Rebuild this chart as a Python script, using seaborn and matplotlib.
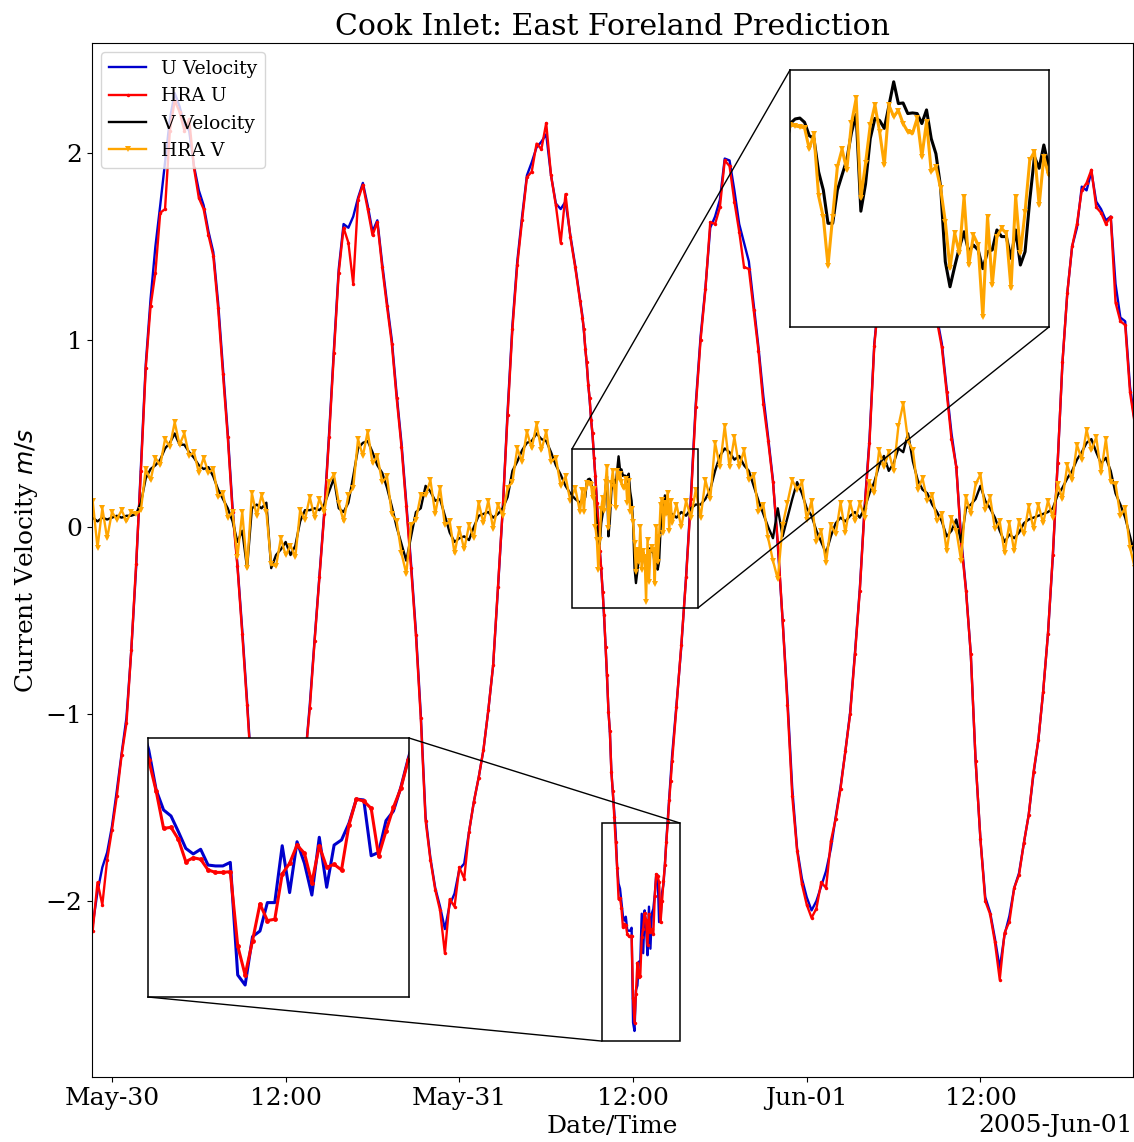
import numpy as np
import pandas as pd
import matplotlib
matplotlib.use("Agg")
import matplotlib.pyplot as plt
import matplotlib.dates as mdates
from matplotlib.patches import Rectangle, ConnectionPatch
import seaborn as sns

plt.rcParams['font.family'] = ['DejaVu Serif']
plt.rcParams['font.size'] = 18
plt.rcParams['mathtext.fontset'] = 'dejavusans'

# ---------------- data ----------------
START = pd.Timestamp('2005-05-30 00:00')
# (start hour relative to May-30 00:00, step in hours) for the three sampled segments
SEGMENTS = [(-5/3, 1/3), (32.5, 0.1), (39.0, 1/3)]

U1 = [-2.05, -2.13, -1.95, -1.82, -1.74, -1.60, -1.41, -1.21, -1.02, -0.66,
      -0.22, 0.32, 0.87, 1.22, 1.50, 1.72, 1.95, 2.18, 2.32, 2.25,
      2.15, 2.12, 1.93, 1.80, 1.72, 1.58, 1.47, 1.20, 0.85, 0.50,
      0.10, -0.20, -0.55, -0.93, -1.33, -1.60, -1.80, -1.95, -2.05, -2.10,
      -2.07, -1.97, -1.84, -1.65, -1.45, -1.25, -0.95, -0.60, -0.26, 0.08,
      0.50, 0.95, 1.38, 1.62, 1.60, 1.66, 1.76, 1.84, 1.72, 1.58,
      1.64, 1.41, 1.20, 1.00, 0.71, 0.45, 0.13, -0.20, -0.56, -1.00,
      -1.55, -1.77, -1.93, -2.03, -2.15, -2.02, -1.96, -1.83, -1.80, -1.63,
      -1.47, -1.34, -1.19, -0.98, -0.74, -0.33, 0.10, 0.62, 1.08, 1.42,
      1.66, 1.88, 1.95, 2.03, 2.06, 2.10, 1.88, 1.73, 1.70, 1.74,
      1.56, 1.40, 1.22]
U2 = [1.13, 1.05, 0.96, 0.87, 0.77, 0.68, 0.58, 0.49, 0.38, 0.26,
      0.14, 0.01, -0.12, -0.23, -0.34, -0.48, -0.63, -0.80, -0.98, -1.10,
      -1.30, -1.42, -1.52,
      -1.637, -1.817, -1.907, -1.934, -2.005, -2.080, -2.105, -2.084, -2.155, -2.159,
      -2.159, -2.143, -2.650, -2.695, -2.477, -2.452, -2.324, -2.324, -2.068, -2.279,
      -2.050, -2.147, -2.290, -2.030, -2.255, -2.065, -2.042, -1.967, -1.858, -1.862,
      -2.113, -2.098, -1.955, -1.912, -1.805, -1.675,
      -1.56, -1.44, -1.33, -1.22]
U3 = [-0.95, -0.64, -0.26, 0.17, 0.66, 1.02, 1.28, 1.60, 1.66, 1.75,
      1.97, 1.96, 1.80, 1.62, 1.52, 1.42, 1.19, 0.96, 0.70, 0.48,
      0.25, -0.10, -0.50, -0.92, -1.40, -1.72, -1.88, -1.98, -2.05, -2.00,
      -1.92, -1.84, -1.72, -1.55, -1.39, -1.20, -0.99, -0.67, -0.33, 0.11,
      0.47, 0.98, 1.25, 1.50, 1.70, 1.85, 1.95, 2.00, 2.02, 1.97,
      1.87, 1.72, 1.52, 1.32, 1.12, 0.98, 0.74, 0.50, 0.32, -0.06,
      -0.33, -0.68, -1.25, -1.67, -1.98, -2.06, -2.20, -2.36, -2.18, -2.08,
      -1.93, -1.85, -1.69, -1.54, -1.32, -1.14, -0.88, -0.57, -0.16, 0.34,
      0.88, 1.25, 1.50, 1.60, 1.82, 1.80, 1.90, 1.74, 1.70, 1.64,
      1.66, 1.30, 1.12, 1.10, 0.75, 0.56]

HRA_U1 = [-2.10, -2.16, -1.90, -2.02, -1.78, -1.62, -1.44, -1.22, -1.05, -0.66,
          -0.20, 0.30, 0.85, 1.18, 1.36, 1.68, 1.70, 2.12, 2.28, 2.22,
          2.12, 2.18, 1.92, 1.76, 1.70, 1.56, 1.45, 1.17, 0.82, 0.48,
          0.08, -0.21, -0.57, -0.95, -1.35, -1.62, -1.82, -1.96, -2.05, -2.12,
          -2.08, -1.98, -1.85, -1.65, -1.45, -1.25, -0.97, -0.61, -0.27, 0.07,
          0.48, 0.93, 1.36, 1.60, 1.52, 1.30, 1.75, 1.83, 1.70, 1.56,
          1.63, 1.39, 1.18, 0.98, 0.69, 0.43, 0.11, -0.22, -0.58, -1.02,
          -1.57, -1.78, -1.94, -2.05, -2.28, -1.99, -2.03, -1.82, -1.88, -1.63,
          -1.47, -1.34, -1.19, -0.98, -0.74, -0.32, 0.10, 0.60, 1.06, 1.40,
          1.64, 1.87, 1.90, 2.05, 2.02, 2.16, 1.88, 1.72, 1.52, 1.78,
          1.55, 1.39, 1.21]
HRA_U2 = [1.12, 1.06, 0.95, 0.88, 0.76, 0.69, 0.57, 0.50, 0.37, 0.27,
          0.13, 0.02, -0.13, -0.22, -0.35, -0.47, -0.64, -0.79, -0.99, -1.09,
          -1.31, -1.41, -1.55,
          -1.682, -1.822, -1.990, -1.985, -2.039, -2.140, -2.122, -2.129, -2.177, -2.188,
          -2.188, -2.185, -2.519, -2.650, -2.495, -2.330, -2.405, -2.399, -2.195, -2.147,
          -2.065, -2.102, -2.234, -2.069, -2.165, -2.152, -2.177, -1.975, -1.858, -1.867,
          -1.900, -2.114, -2.002, -1.895, -1.810, -1.682,
          -1.58, -1.46, -1.36, -1.25]
HRA_U3 = [-0.96, -0.63, -0.27, 0.15, 0.64, 1.00, 1.27, 1.63, 1.62, 1.71,
          1.96, 1.93, 1.74, 1.58, 1.39, 1.38, 1.16, 0.94, 0.66, 0.46,
          0.24, -0.08, -0.50, -0.95, -1.44, -1.73, -1.91, -2.02, -2.09, -2.04,
          -1.90, -1.93, -1.68, -1.56, -1.40, -1.20, -1.00, -0.68, -0.34, 0.10,
          0.45, 0.97, 1.24, 1.49, 1.70, 1.84, 1.94, 1.99, 2.02, 1.96,
          1.86, 1.71, 1.51, 1.31, 1.10, 0.96, 0.72, 0.47, 0.32, -0.08,
          -0.34, -0.68, -1.25, -1.67, -2.00, -2.07, -2.22, -2.42, -2.17, -2.11,
          -1.93, -1.86, -1.69, -1.54, -1.31, -1.14, -0.88, -0.57, -0.15, 0.34,
          0.88, 1.25, 1.50, 1.62, 1.80, 1.84, 1.91, 1.71, 1.68, 1.62,
          1.66, 1.20, 1.10, 1.08, 0.72, 0.55]

V1 = [0.04, 0.05, 0.03, 0.05, 0.04, 0.05, 0.06, 0.05, 0.06, 0.06,
      0.07, 0.13, 0.26, 0.31, 0.33, 0.36, 0.42, 0.45, 0.50, 0.44,
      0.44, 0.40, 0.37, 0.33, 0.31, 0.32, 0.27, 0.20, 0.15, 0.10,
      0.03, -0.08, -0.02, -0.22, 0.10, 0.12, 0.10, 0.13, -0.22, -0.15,
      -0.12, -0.08, -0.15, -0.10, 0.03, 0.09, 0.09, 0.10, 0.09, 0.12,
      0.19, 0.26, 0.10, 0.08, 0.13, 0.27, 0.42, 0.45, 0.46, 0.40,
      0.33, 0.29, 0.21, 0.11, 0.00, -0.09, -0.18, -0.05, 0.08, 0.10,
      0.22, 0.19, 0.14, 0.15, 0.06, -0.03, -0.08, -0.06, -0.05, -0.07,
      0.00, 0.06, 0.07, 0.08, 0.05, 0.07, 0.10, 0.16, 0.30, 0.35,
      0.41, 0.45, 0.46, 0.50, 0.47, 0.46, 0.40, 0.33, 0.28, 0.22,
      0.18, 0.15, 0.13]
V2 = [0.15, 0.14, 0.16,
      0.241, 0.255, 0.258, 0.244, 0.20, 0.19, 0.08, 0.02, -0.09, -0.09,
      0.02, 0.07, 0.12, 0.21, 0.27, -0.05, 0.04, 0.19, 0.257, 0.25,
      0.224, 0.30, 0.378, 0.306, 0.308, 0.273, 0.275, 0.273, 0.24, 0.285,
      0.19, 0.14, 0.03, -0.217, -0.30, -0.233, -0.17, -0.118, -0.184, -0.162,
      -0.178, -0.24, -0.184, -0.178, -0.112, -0.134, -0.134, -0.206, -0.112, -0.228,
      -0.184, -0.013, 0.13, 0.092, 0.169, 0.10,
      0.08, 0.06, 0.04, 0.07]
V3 = [0.05, 0.08, 0.06, 0.10, 0.12, 0.12, 0.15, 0.20, 0.30, 0.38,
      0.42, 0.40, 0.36, 0.38, 0.33, 0.30, 0.22, 0.14, 0.07, 0.00,
      -0.06, 0.10, -0.05, 0.05, 0.15, 0.24, 0.18, 0.10, 0.06, -0.02,
      -0.08, -0.14, -0.05, 0.02, 0.05, 0.03, 0.06, 0.08, 0.05, 0.10,
      0.18, 0.24, 0.33, 0.38, 0.30, 0.34, 0.42, 0.40, 0.50, 0.35,
      0.25, 0.20, 0.18, 0.12, 0.08, 0.03, -0.05, -0.02, 0.04, -0.08,
      0.10, 0.12, 0.15, 0.22, 0.14, 0.10, 0.05, -0.02, -0.08, -0.04,
      -0.06, -0.03, 0.02, 0.04, 0.05, 0.06, 0.07, 0.08, 0.10, 0.17,
      0.21, 0.26, 0.30, 0.36, 0.40, 0.45, 0.47, 0.40, 0.34, 0.37,
      0.30, 0.18, 0.12, 0.05, -0.05, -0.15]

HRA_V1 = [-0.04, 0.14, -0.11, 0.10, -0.06, 0.08, 0.04, 0.09, 0.03, 0.08,
          0.07, 0.09, 0.31, 0.25, 0.37, 0.33, 0.47, 0.43, 0.56, 0.44,
          0.50, 0.38, 0.40, 0.29, 0.37, 0.29, 0.31, 0.16, 0.18, 0.05,
          0.08, -0.16, 0.08, -0.22, 0.18, 0.06, 0.17, 0.08, -0.20, -0.21,
          -0.06, -0.15, -0.10, -0.16, 0.09, 0.04, 0.16, 0.05, 0.15, 0.08,
          0.24, 0.28, 0.13, 0.03, 0.17, 0.21, 0.47, 0.38, 0.51, 0.34,
          0.38, 0.24, 0.27, 0.07, 0.03, -0.14, -0.25, 0.01, 0.04, 0.17,
          0.17, 0.25, 0.07, 0.21, 0.01, 0.03, -0.14, -0.01, -0.12, 0.01,
          -0.06, 0.13, 0.02, 0.14, -0.01, 0.12, 0.06, 0.21, 0.24, 0.42,
          0.35, 0.51, 0.42, 0.55, 0.41, 0.51, 0.35, 0.37, 0.22, 0.27,
          0.14, 0.21, 0.08]
HRA_V2 = [0.20, 0.08, 0.19,
          0.235, 0.232, 0.229, 0.226, 0.156, 0.204, 0.0, -0.07, -0.23, -0.068,
          0.097, 0.155, 0.086, 0.241, 0.323, -0.007, 0.108, 0.234, 0.301, 0.213,
          0.103, 0.30, 0.263, 0.283, 0.24, 0.213, 0.207, 0.257, 0.130, 0.246,
          0.081, 0.097, 0.026, -0.085, -0.239, -0.123, -0.189, -0.002, -0.228, -0.129,
          -0.162, -0.399, -0.068, -0.294, -0.134, -0.107, -0.123, -0.305, -0.002, -0.189,
          -0.052, 0.119, 0.147, -0.030, 0.130, 0.070,
          0.18, -0.02, 0.14, 0.02]
HRA_V3 = [0.12, 0.00, 0.14, 0.05, 0.20, 0.05, 0.25, 0.15, 0.45, 0.32,
          0.54, 0.32, 0.48, 0.32, 0.41, 0.25, 0.28, 0.08, 0.12, -0.06,
          -0.18, -0.28, 0.01, 0.13, 0.25, 0.20, 0.24, 0.04, 0.14, -0.08,
          -0.02, -0.19, 0.01, -0.04, 0.13, -0.03, 0.13, 0.03, 0.13, 0.05,
          0.24, 0.18, 0.41, 0.32, 0.40, 0.30, 0.54, 0.66, 0.46, 0.41,
          0.20, 0.26, 0.14, 0.17, 0.03, 0.07, -0.13, 0.05, -0.02, -0.18,
          0.16, 0.07, 0.23, 0.28, 0.09, 0.16, -0.01, 0.03, -0.14, 0.02,
          -0.13, 0.03, -0.04, 0.11, -0.01, 0.12, 0.02, 0.14, 0.05, 0.23,
          0.15, 0.33, 0.25, 0.44, 0.36, 0.52, 0.41, 0.48, 0.29, 0.47,
          0.24, 0.23, 0.06, 0.10, -0.11, -0.22]

SERIES_LABELS = ['U Velocity', 'HRA U', 'V Velocity', 'HRA V']
X_TICK_HOURS = [0, 12]
Y_TICKS = [-2, -1, 0, 1, 2]


def make_series(parts):
    hrs = np.concatenate([s + np.arange(len(p)) * st for p, (s, st) in zip(parts, SEGMENTS)])
    t = START + pd.to_timedelta(hrs, unit='h')
    return pd.DataFrame({'time': t, 'value': np.concatenate([np.asarray(p, float) for p in parts])})


series = {
    'U Velocity': make_series([U1, U2, U3]),
    'HRA U': make_series([HRA_U1, HRA_U2, HRA_U3]),
    'V Velocity': make_series([V1, V2, V3]),
    'HRA V': make_series([HRA_V1, HRA_V2, HRA_V3]),
}

styles = {
    'U Velocity': dict(color='#0000cd', marker=None),
    'HRA U': dict(color='red', marker='.'),
    'V Velocity': dict(color='black', marker=None),
    'HRA V': dict(color='orange', marker='v'),
}


def hnum(h):
    return mdates.date2num(START + pd.Timedelta(hours=h))


def draw(ax, names, lw, ms_dot, ms_tri, legend):
    for name in names:
        df = series[name]
        st = styles[name]
        kw = dict(x='time', y='value', data=df, ax=ax, color=st['color'], linewidth=lw,
                  estimator=None, sort=False)
        if legend:
            kw['label'] = name
        if st['marker'] == '.':
            kw.update(marker='.', markersize=ms_dot, markeredgecolor=st['color'],
                      markerfacecolor=st['color'], markeredgewidth=0)
        elif st['marker'] == 'v':
            kw.update(marker='v', markersize=ms_tri, markeredgecolor=st['color'],
                      markerfacecolor=st['color'], markeredgewidth=0)
        sns.lineplot(**kw)


W, H = 1134, 1142
fig = plt.figure(figsize=(W / 100, H / 100), dpi=100)
ax = fig.add_axes([92 / W, 1 - 1077 / H, (1133 - 92) / W, (1077 - 43) / H])
draw(ax, SERIES_LABELS, 1.7, 5, 4, True)

ax.set_xlim(hnum(-1.38), hnum(70.54))
ax.set_ylim(-2.941, 2.588)
ax.set_yticks(Y_TICKS)
loc = mdates.HourLocator(byhour=X_TICK_HOURS)
ax.xaxis.set_major_locator(loc)
ax.xaxis.set_major_formatter(mdates.ConciseDateFormatter(loc))
ax.set_xlabel('Date/Time')
ax.set_ylabel('Current Velocity $m/s$')
ax.set_title('Cook Inlet: East Foreland Prediction', fontsize=21.6)
ax.legend(loc='upper left', fontsize=13.5, framealpha=0.8)

# ---- insets ----
# lower inset (U detail)
axU = fig.add_axes([148 / W, 1 - 997 / H, 261 / W, 259 / H])
draw(axU, ['U Velocity', 'HRA U'], 2.2, 7, 5, False)
axU.set_xlim(hnum(34.79), hnum(38.31))
axU.set_ylim(-2.749, -1.583)
# upper inset (V detail)
axV = fig.add_axes([790 / W, 1 - 327 / H, 259 / W, 257 / H])
draw(axV, ['V Velocity', 'HRA V'], 2.2, 7, 5, False)
axV.set_xlim(hnum(32.79), hnum(38.31))
axV.set_ylim(-0.433, 0.417)
for a in (axU, axV):
    a.set_xticks([])
    a.set_yticks([])
    a.set_xlabel('')
    a.set_ylabel('')
    a.set_facecolor('white')
    for s in a.spines.values():
        s.set_linewidth(1.1)
    if a.get_legend():
        a.get_legend().remove()

# zoom boxes on the main axes and connector lines
boxes = [
    (axU, 33.85, 39.24, -2.749, -1.583, [((1, 1), (39.24, -1.583)), ((0, 0), (33.85, -2.749))]),
    (axV, 31.78, 40.48, -0.433, 0.417, [((0, 1), (31.78, 0.417)), ((1, 0), (40.48, -0.433))]),
]
for a, h0, h1, y0, y1, links in boxes:
    ax.add_patch(Rectangle((hnum(h0), y0), hnum(h1) - hnum(h0), y1 - y0, fill=False,
                           edgecolor='black', linewidth=1.1, zorder=5))
    for (ia, (hb, yb)) in links:
        con = ConnectionPatch(xyA=ia, coordsA=a.transAxes, xyB=(hnum(hb), yb),
                              coordsB=ax.transData, color='black', linewidth=1.0, zorder=6)
        fig.add_artist(con)

fig.savefig('out.png', dpi=100)
